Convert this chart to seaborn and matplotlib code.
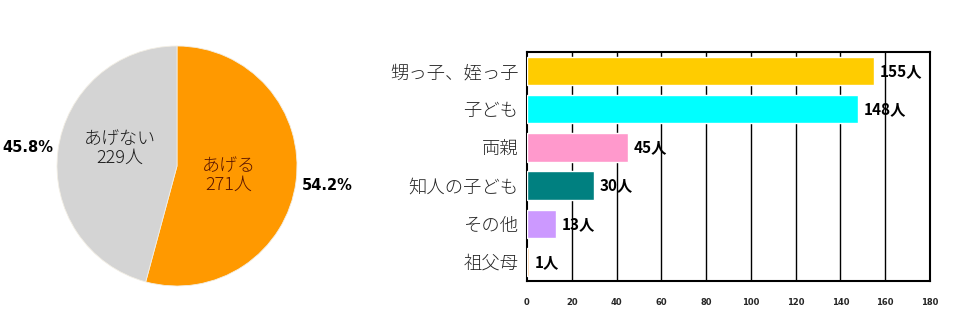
import matplotlib
matplotlib.use("Agg")
import matplotlib.pyplot as plt
import seaborn as sns
import pandas as pd

# Pie: give / don't give
pie_labels = ["あげる", "あげない"]
pie_counts = [271, 229]
pie_pcts = ["54.2%", "45.8%"]
pie_colors = ["#FF9900", "#D4D4D4"]
pie_text_colors = ["#5A1500", "#1A1A1A"]

# Bars: who receives
categories = ["甥っ子、姪っ子", "子ども", "両親", "知人の子ども", "その他", "祖父母"]
counts = [155, 148, 45, 30, 13, 1]
bar_colors = ["#FFCC00", "#00FFFF", "#FF99CC", "#008080", "#CC99FF", "#FFCC99"]
xticks = [0, 20, 40, 60, 80, 100, 120, 140, 160, 180]

sns.set_theme(style="white")
plt.rcParams["font.family"] = ["Noto Sans CJK JP", "DejaVu Sans"]

W, H = 958, 332
fig = plt.figure(figsize=(W / 100, H / 100), dpi=100)
fig.patch.set_facecolor("white")

# ---- pie ----
cx, cy, r = 177, 166, 120
pax = fig.add_axes([(cx - r) / W, (H - cy - r) / H, 2 * r / W, 2 * r / H])
wedges, _ = pax.pie(pie_counts, colors=pie_colors, startangle=90, counterclock=False,
                    radius=1.0, wedgeprops=dict(linewidth=0.6, edgecolor="#F2EEE4"))
pax.set_xlim(-1, 1)
pax.set_ylim(-1, 1)
pax.set_aspect("auto")
pax.axis("off")

inner_pos = [(0.43, -0.08), (-0.48, 0.15)]
for lab, n, col, (x, y) in zip(pie_labels, pie_counts, pie_text_colors, inner_pos):
    pax.text(x, y, f"{lab}\n{n}人", ha="center", va="center", fontsize=13,
             fontweight="light", color=col, linespacing=1.05)

outer_pos = [(1.25, -0.16), (-1.24, 0.15)]
for p, (x, y) in zip(pie_pcts, outer_pos):
    pax.text(x, y, p, ha="center", va="center", fontsize=10.5, fontweight="heavy",
             color="black", family=["DejaVu Sans"], clip_on=False)

# ---- bars ----
x0, x1, y0, y1 = 527, 930, 52, 281
bax = fig.add_axes([x0 / W, (H - y1) / H, (x1 - x0) / W, (y1 - y0) / H])
df = pd.DataFrame({"category": categories, "count": counts})
sns.barplot(data=df, y="category", x="count", hue="category", palette=bar_colors,
            order=categories, hue_order=categories, legend=False, width=0.74,
            saturation=1, ax=bax, zorder=3)
bax.set_xlim(0, 180)
bax.set_ylim(5.5, -0.5)
bax.set_xticks(xticks)
bax.set_xticklabels([str(t) for t in xticks], fontsize=6, fontweight="heavy",
                    family=["DejaVu Sans"])
bax.tick_params(axis="x", length=0, pad=12)
bax.tick_params(axis="y", length=0, pad=6, labelsize=13.2)
for lbl in bax.get_yticklabels():
    lbl.set_fontweight("light")
bax.set_xlabel("")
bax.set_ylabel("")
bax.grid(False)
for t in xticks[1:-1]:
    bax.axvline(t, color="black", linewidth=1, zorder=1)
for s in bax.spines.values():
    s.set_visible(True)
    s.set_color("black")
    s.set_linewidth(1.5)

for i, v in enumerate(counts):
    bax.text(v + 2.5, i, f"{v}人", va="center", ha="left", fontsize=11,
             fontweight="bold", color="black", zorder=4)

fig.savefig("out.png", dpi=100, facecolor="white")
